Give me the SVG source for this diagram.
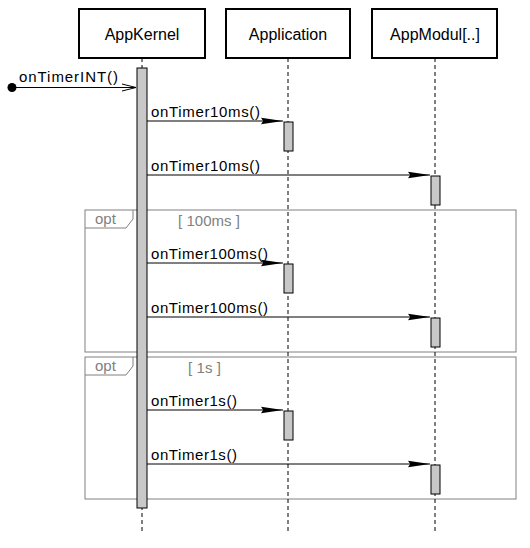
<svg xmlns="http://www.w3.org/2000/svg" width="530" height="548" viewBox="0 0 530 548">
<defs>
<style>
.box{fill:#fff;stroke:#000;stroke-width:2}
.nt{font-family:"Liberation Sans",Arial,sans-serif;font-size:16px;text-anchor:middle;fill:#000}
.mt{font-family:"Liberation Sans",Arial,sans-serif;font-size:15px;fill:#000}
.ft{font-family:"Liberation Sans",Arial,sans-serif;font-size:15px;fill:#808080}
.life{stroke:#000;stroke-width:1;stroke-dasharray:4,3;fill:none}
.act{fill:#c8c8c8;stroke:#000;stroke-width:1}
.frame{fill:none;stroke:#808080;stroke-width:1}
.msg{stroke:#000;stroke-width:1;fill:none}
</style>
<marker id="fa" markerUnits="userSpaceOnUse" markerWidth="22" markerHeight="10" viewBox="0 0 20 8" refX="20" refY="3.5" orient="auto">
<path d="M0,0.5 L20,3.5 L0,6.5 L2,3.5 Z" fill="#000"/>
</marker>
</defs>
<g id="frames">
<g id="opt1">
<rect class="frame" x="85" y="210" width="431" height="142"/>
<path class="frame" d="M85,228 L126,228 L133,219 L133,210"/>
<text class="ft" x="95" y="224">opt</text>
<text class="ft" x="178" y="226" textLength="62">[ 100ms ]</text>
</g>
<g id="opt2">
<rect class="frame" x="85" y="357" width="431" height="142"/>
<path class="frame" d="M85,375 L126,375 L133,366 L133,357"/>
<text class="ft" x="95" y="371">opt</text>
<text class="ft" x="188" y="373" textLength="33">[ 1s ]</text>
</g>
</g>
<g id="AppKernel">
<rect class="box" x="79" y="9" width="126" height="49"/>
<text class="nt" x="142" y="40">AppKernel</text>
<line class="life" x1="142" y1="58" x2="142" y2="534"/>
<rect class="act" x="137" y="68" width="10" height="440"/>
</g>
<g id="Application">
<rect class="box" x="226" y="9" width="124" height="49"/>
<text class="nt" x="288" y="40">Application</text>
<line class="life" x1="288" y1="58" x2="288" y2="534"/>
<rect class="act" x="284" y="122" width="9" height="29"/>
<rect class="act" x="284" y="264" width="9" height="29"/>
<rect class="act" x="284" y="411" width="9" height="29"/>
</g>
<g id="AppModul">
<rect class="box" x="372" y="9" width="125" height="49"/>
<text class="nt" x="435" y="40">AppModul[..]</text>
<line class="life" x1="435" y1="58" x2="435" y2="534"/>
<rect class="act" x="431" y="176" width="9" height="29"/>
<rect class="act" x="431" y="318" width="9" height="29"/>
<rect class="act" x="431" y="465" width="9" height="29"/>
</g>
<g id="connectors">
<circle cx="12" cy="87.5" r="4.5" fill="#000"/>
<line class="msg" x1="12" y1="87.5" x2="136" y2="87.5"/>
<path class="msg" d="M122,84 L136,87.5 L122,91"/>
<text class="mt" x="19" y="82" textLength="99">onTimerINT()</text>
<line class="msg" x1="147" y1="121" x2="283" y2="121" marker-end="url(#fa)"/>
<text class="mt" x="151" y="117" textLength="109">onTimer10ms()</text>
<line class="msg" x1="147" y1="175" x2="430" y2="175" marker-end="url(#fa)"/>
<text class="mt" x="151" y="171" textLength="109">onTimer10ms()</text>
<line class="msg" x1="147" y1="263" x2="283" y2="263" marker-end="url(#fa)"/>
<text class="mt" x="151" y="259" textLength="117">onTimer100ms()</text>
<line class="msg" x1="147" y1="317" x2="430" y2="317" marker-end="url(#fa)"/>
<text class="mt" x="151" y="313" textLength="117">onTimer100ms()</text>
<line class="msg" x1="147" y1="410" x2="283" y2="410" marker-end="url(#fa)"/>
<text class="mt" x="151" y="406" textLength="86">onTimer1s()</text>
<line class="msg" x1="147" y1="464" x2="430" y2="464" marker-end="url(#fa)"/>
<text class="mt" x="151" y="460" textLength="86">onTimer1s()</text>
</g>
</svg>
